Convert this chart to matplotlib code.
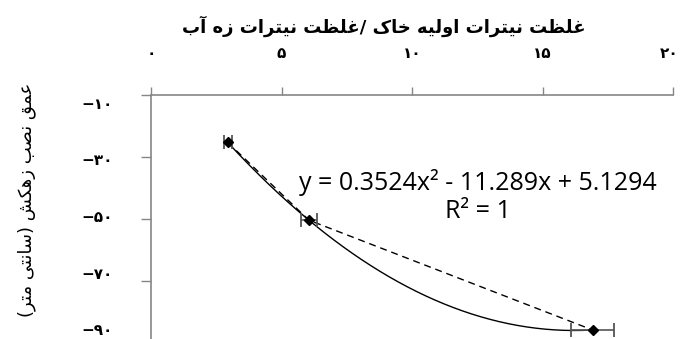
import numpy as np
import matplotlib
matplotlib.use("Agg")
import matplotlib.pyplot as plt
import matplotlib.transforms as mtransforms

# values
x_vals = [2.94, 6.05, 16.92]
y_vals = [-25.4, -50.4, -85.7]
x_err = [0.15, 0.3, 0.83]

x_ticks = [0, 5, 10, 15, 20]
x_tick_labels = ['۰', '۵', '۱۰', '۱۵', '۲۰']
y_ticks = [-10, -30, -50, -70]
y_tick_labels = ['−۱۰', '−۳۰', '−۵۰', '−۷۰', '−۹۰']

title_text = 'غلظت نیترات اولیه خاک /غلظت نیترات زه آب'
ylabel_text = 'عمق نصب زهکش (سانتی متر)'
eq_text = 'y = 0.3524x² - 11.289x + 5.1294'
r2_text = 'R² = 1'

# small persian shaper (matplotlib does no arabic joining / bidi)
FORMS = {
    'ا': ('\uFE8D', '\uFE8E', None, None),
    'آ': ('\uFE81', '\uFE82', None, None),
    'ب': ('\uFE8F', '\uFE90', '\uFE91', '\uFE92'),
    'ت': ('\uFE95', '\uFE96', '\uFE97', '\uFE98'),
    'خ': ('\uFEA5', '\uFEA6', '\uFEA7', '\uFEA8'),
    'ر': ('\uFEAD', '\uFEAE', None, None),
    'ز': ('\uFEAF', '\uFEB0', None, None),
    'س': ('\uFEB1', '\uFEB2', '\uFEB3', '\uFEB4'),
    'ش': ('\uFEB5', '\uFEB6', '\uFEB7', '\uFEB8'),
    'ص': ('\uFEB9', '\uFEBA', '\uFEBB', '\uFEBC'),
    'ظ': ('\uFEC5', '\uFEC6', '\uFEC7', '\uFEC8'),
    'ع': ('\uFEC9', '\uFECA', '\uFECB', '\uFECC'),
    'غ': ('\uFECD', '\uFECE', '\uFECF', '\uFED0'),
    'ق': ('\uFED5', '\uFED6', '\uFED7', '\uFED8'),
    'ل': ('\uFEDD', '\uFEDE', '\uFEDF', '\uFEE0'),
    'م': ('\uFEE1', '\uFEE2', '\uFEE3', '\uFEE4'),
    'ن': ('\uFEE5', '\uFEE6', '\uFEE7', '\uFEE8'),
    'ه': ('\uFEE9', '\uFEEA', '\uFEEB', '\uFEEC'),
    'و': ('\uFEED', '\uFEEE', None, None),
    'ی': ('\uFBFC', '\uFBFD', '\uFBFE', '\uFBFF'),
    'ک': ('\uFB8E', '\uFB8F', '\uFB90', '\uFB91'),
}


def shape(text):
    out = []
    n = len(text)
    for i, ch in enumerate(text):
        if ch not in FORMS:
            out.append(ch)
            continue
        iso, fin, ini, med = FORMS[ch]
        prev = text[i - 1] if i > 0 else ''
        nxt = text[i + 1] if i < n - 1 else ''
        jp = prev in FORMS and FORMS[prev][2] is not None
        jn = ini is not None and nxt in FORMS
        if jp and jn:
            out.append(med)
        elif jp:
            out.append(fin)
        elif jn:
            out.append(ini)
        else:
            out.append(iso)
    s = ''.join(out)[::-1]
    return s.translate(str.maketrans('()', ')('))


fig = plt.figure(figsize=(6.8, 3.39), dpi=100)
ax = fig.add_axes([151 / 680, 0.0, 522 / 680, 1 - 94.5 / 339])

# trendline (2nd order poly through the points)
coef = np.polyfit(x_vals, y_vals, 2)
xs = np.linspace(min(x_vals), max(x_vals), 200)
ax.plot(xs, np.polyval(coef, xs), color='black', lw=1.0, zorder=2)

ax.plot(x_vals, y_vals, color='black', lw=1.0, ls=(0, (5, 3.5)), zorder=2)
ax.errorbar(x_vals, y_vals, xerr=x_err, fmt='D', color='black', ms=5.5,
            ecolor='#555555', elinewidth=1.2, capsize=5, capthick=1.3, zorder=3)

ax.set_xlim(0, 20)
ax.set_ylim(-88.6, -10)
ax.xaxis.tick_top()
ax.set_xticks(x_ticks)
ax.set_xticklabels(x_tick_labels, fontsize=11, fontweight='bold')
ax.set_yticks(y_ticks)
ax.set_yticklabels([])
ax.tick_params(axis='x', direction='out', length=6, width=1, color='#868686', pad=18)
ax.tick_params(axis='y', direction='out', length=7, width=1, color='#868686')
for side in ['right', 'bottom']:
    ax.spines[side].set_visible(False)
for side in ['top', 'left']:
    ax.spines[side].set_color('#868686')
    ax.spines[side].set_linewidth(1.2)

# last x label sits a little inward so it stays on the canvas
last = ax.get_xticklabels()[-1]
last.set_transform(last.get_transform() + mtransforms.ScaledTranslation(-4 / 100, 0, fig.dpi_scale_trans))

# y tick labels sit on their own spacing in the reference
for lab, fy in zip(y_tick_labels, np.linspace(0.961, 0.033, len(y_tick_labels))):
    ax.text(-0.073, fy, lab, transform=ax.transAxes, ha='right', va='center',
            fontsize=11, fontweight='bold')

fig.text(384 / 680, 1 - 26 / 339, shape(title_text), ha='center', va='center',
         fontsize=13, fontweight='bold')
fig.text(27 / 680, 1 - 200 / 339, shape(ylabel_text), ha='center', va='center',
         rotation=90, fontsize=13)

fig.text(478 / 680, 1 - 182 / 339, eq_text, ha='center', va='center',
         fontsize=18, family='Open Sans')
fig.text(478 / 680, 1 - 211 / 339, r2_text, ha='center', va='center',
         fontsize=18, family='Open Sans')

fig.savefig('out.png', dpi=100)
